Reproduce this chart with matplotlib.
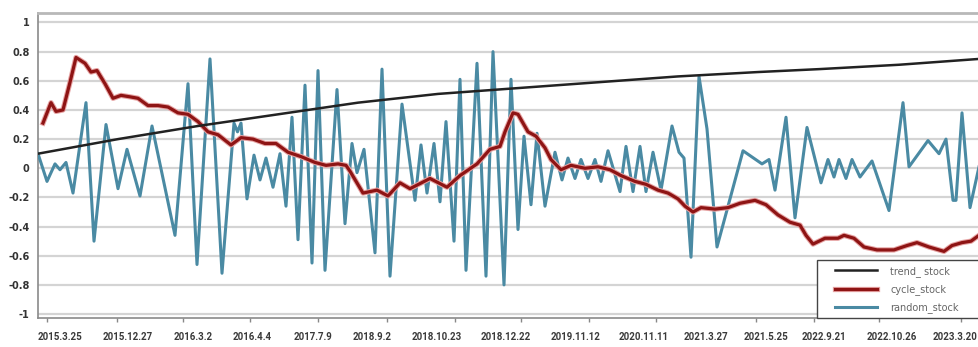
import matplotlib.pyplot as plt
import matplotlib.patheffects as pe
from matplotlib.patches import Rectangle
from matplotlib.ticker import FixedLocator

# horizontal position along the time axis (arbitrary units, 0 .. 941)
trend_x = [0, 80, 160, 240, 320, 400, 480, 560, 640, 720, 781, 861, 941]
trend_y = [0.10, 0.20, 0.29, 0.37, 0.45, 0.51, 0.55, 0.59, 0.63, 0.66, 0.68, 0.71, 0.75]

cycle_x = [5, 13, 18, 25, 32, 38, 47, 53, 59, 67, 75, 83, 92, 100, 110, 120, 130, 140,
           150, 160, 170, 180, 193, 203, 215, 227, 238, 250, 263, 277, 288, 300, 308,
           312, 325, 339, 350, 362, 372, 392, 409, 422, 439, 452, 462, 467, 475, 480,
           490, 498, 507, 513, 523, 533, 547, 560, 572, 583, 597, 608, 620, 630, 640,
           647, 655, 663, 677, 690, 702, 717, 728, 740, 752, 762, 768, 775, 787, 800,
           806, 816, 826, 839, 856, 869, 879, 891, 906, 914, 924, 933, 941]
cycle_y = [0.31, 0.45, 0.39, 0.40, 0.59, 0.76, 0.72, 0.66, 0.67, 0.58, 0.48, 0.50, 0.49,
           0.48, 0.43, 0.43, 0.42, 0.38, 0.37, 0.32, 0.25, 0.23, 0.16, 0.21, 0.20, 0.17,
           0.17, 0.11, 0.08, 0.04, 0.02, 0.03, 0.02, -0.02, -0.17, -0.15, -0.19, -0.10,
           -0.14, -0.07, -0.13, -0.05, 0.03, 0.13, 0.15, 0.25, 0.38, 0.37, 0.25, 0.22,
           0.14, 0.06, -0.01, 0.02, 0.00, 0.01, -0.01, -0.05, -0.09, -0.11, -0.15, -0.17,
           -0.21, -0.26, -0.30, -0.27, -0.28, -0.27, -0.24, -0.22, -0.25, -0.32, -0.37,
           -0.39, -0.46, -0.52, -0.48, -0.48, -0.46, -0.48, -0.54, -0.56, -0.56, -0.53,
           -0.51, -0.54, -0.57, -0.53, -0.51, -0.50, -0.46]

random_x = [0, 9, 17, 22, 28, 35, 48, 56, 68, 80, 89, 102, 114, 137, 150, 159, 172, 184,
            196, 199.5, 203, 209, 216, 222, 228, 235, 242, 248, 254, 260, 267, 274, 280,
            287, 299, 307, 314, 319, 326, 337, 344, 352, 364, 377, 383, 389, 396, 402,
            408, 416, 422, 428, 439, 448, 455, 466, 473, 480, 486, 493, 499, 507, 517,
            524, 530, 537, 543, 550, 557, 563, 570, 582, 588, 595, 602, 608, 615, 623,
            634, 641, 646, 653, 661, 669, 679, 705, 724, 731, 737, 748, 757, 769, 783,
            790, 796, 801, 808, 814, 822, 834, 851, 865, 871, 890, 901, 908, 915, 918,
            924, 932, 941]
random_y = [0.10, -0.09, 0.03, -0.01, 0.04, -0.17, 0.45, -0.50, 0.30, -0.14, 0.13, -0.19,
            0.29, -0.46, 0.58, -0.66, 0.75, -0.72, 0.31, 0.25, 0.31, -0.21, 0.09, -0.08,
            0.07, -0.13, 0.10, -0.26, 0.35, -0.49, 0.57, -0.65, 0.67, -0.70, 0.54, -0.38,
            0.17, -0.03, 0.13, -0.58, 0.68, -0.74, 0.44, -0.22, 0.16, -0.17, 0.17, -0.23,
            0.32, -0.50, 0.61, -0.70, 0.72, -0.74, 0.80, -0.80, 0.61, -0.42, 0.22, -0.25,
            0.24, -0.26, 0.11, -0.08, 0.07, -0.07, 0.06, -0.07, 0.06, -0.09, 0.12, -0.16,
            0.15, -0.16, 0.15, -0.16, 0.11, -0.15, 0.29, 0.11, 0.07, -0.61, 0.63, 0.27,
            -0.54, 0.12, 0.03, 0.06, -0.15, 0.35, -0.34, 0.28, -0.10, 0.06, -0.06, 0.06,
            -0.07, 0.06, -0.06, 0.05, -0.29, 0.45, 0.01, 0.19, 0.10, 0.20, -0.22, -0.22,
            0.38, -0.27, 0.01]

date_labels = ["2015.3.25", "2015.12.27", "2016.3.2", "2016.4.4", "2017.7.9", "2018.9.2",
               "2018.10.23", "2018.12.22", "2019.11.12", "2020.11.11", "2021.3.27",
               "2021.5.25", "2022.9.21", "2022.10.26", "2023.3.20"]
label_pos = [22, 90, 155, 214, 275, 334, 399, 468, 538, 606, 668, 728, 786, 854, 917]
tick_pos = [9, 79, 145, 212, 280, 349, 417, 483, 551, 618, 668, 718, 776, 841, 923]

y_ticks = [-1, -0.8, -0.6, -0.4, -0.2, 0, 0.2, 0.4, 0.6, 0.8, 1]
y_labels = ["-1", "-0.8", "-0.6", "-0.4", "-0.2", "0", "0.2", "0.4", "0.6", "0.8", "1"]

fig = plt.figure(figsize=(9.79, 3.47), dpi=100)
ax = fig.add_axes([38 / 979, 29 / 347, 941 / 979, 305 / 347])

ax.plot(random_x, random_y, color="#4a8aa3", lw=2.2, zorder=3, solid_joinstyle="round",
        label="random_stock")
ax.plot(cycle_x, cycle_y, color="#8e1414", lw=2.3, zorder=4, solid_joinstyle="round",
        path_effects=[pe.Stroke(linewidth=3.8, foreground="#e6a3a3"), pe.Normal()],
        label="cycle_stock")
ax.plot(trend_x, trend_y, color="#222222", lw=1.8, zorder=5, label="trend_ stock")

ax.set_xlim(0, 941)
ax.set_ylim(-1.027, 1.065)

ax.set_yticks(y_ticks)
ax.set_yticklabels(y_labels, fontweight="bold")
ax.tick_params(axis="y", length=0, pad=6, labelsize=7, labelcolor="#333333")

ax.set_xticks(label_pos)
ax.set_xticklabels(date_labels, family="Roboto", fontsize=7.0, fontweight="bold")
ax.tick_params(axis="x", which="major", length=0, pad=10, labelcolor="#3a3a3a")
ax.xaxis.set_minor_locator(FixedLocator(tick_pos))
ax.tick_params(axis="x", which="minor", length=3, width=1, color="#888888", direction="out")

ax.grid(axis="y", color="#d4d4d4", lw=1.6)
ax.set_axisbelow(True)
ax.spines["left"].set_color("#8a8a8a")
ax.spines["bottom"].set_color("#8a8a8a")
ax.spines["top"].set_color("#b8b8b8")
ax.spines["top"].set_linewidth(2)
ax.spines["right"].set_visible(False)
ax.spines["left"].set_linewidth(1.2)
ax.spines["bottom"].set_linewidth(1.2)

# legend box, running off the right edge as in the original
box = Rectangle((779 / 941, 0), 0.25, 58 / 305, transform=ax.transAxes, facecolor="white",
                edgecolor="#444444", lw=1, zorder=9, clip_on=False)
ax.add_patch(box)

h, l = ax.get_legend_handles_labels()
leg = ax.legend(h[::-1], l[::-1], loc="lower left", bbox_to_anchor=(792 / 941, 0.0),
                fontsize=7, frameon=False, handlelength=4.3,
                handletextpad=1.4, labelspacing=0.75, borderpad=0.5, borderaxespad=0)
for t in leg.get_texts():
    t.set_color("#666666")
leg.set_zorder(10)

fig.savefig("out.png", dpi=100)
plt.close()
